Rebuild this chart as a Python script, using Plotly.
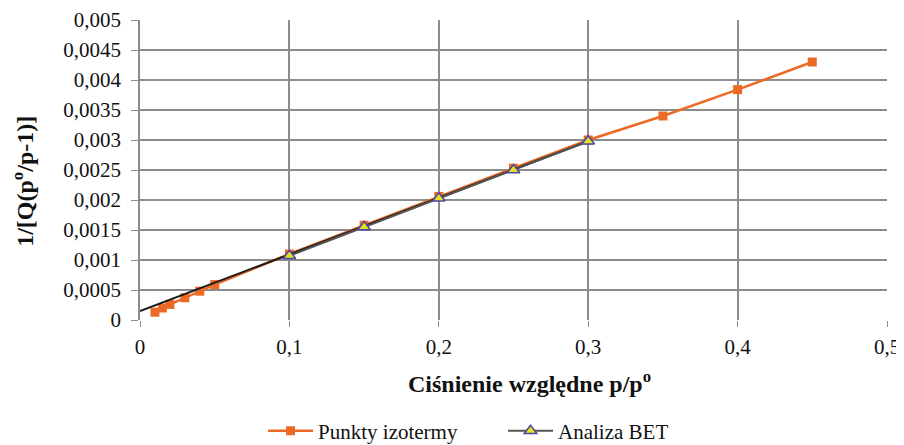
import plotly.graph_objects as go

iso_x = [0.01, 0.015, 0.02, 0.03, 0.04, 0.05, 0.1, 0.15, 0.2, 0.25, 0.3, 0.35, 0.4, 0.45]
iso_y = [0.00013, 0.0002, 0.00026, 0.00037, 0.00048, 0.00059, 0.0011, 0.00158, 0.00206, 0.00253, 0.003, 0.0034, 0.00384, 0.0043]

bet_x = [0.1, 0.15, 0.2, 0.25, 0.3]
bet_y = [0.00107, 0.00155, 0.00203, 0.0025, 0.00298]

fit_x = [0.0, 0.3]
fit_y = [0.00015, 0.00298]

x_title = "Ciśnienie względne p/p<sup>o</sup>"
y_title = "1/[Q(p<sup>o</sup>/p-1)]"

orange = "#EC6A26"
serif = "Liberation Serif, Times New Roman, Times, serif"

fig = go.Figure()
fig.add_trace(go.Scatter(
    x=iso_x, y=iso_y, mode="lines+markers", name="Punkty izotermy",
    line=dict(color=orange, width=2.5),
    marker=dict(symbol="square", size=9, color=orange),
))
fig.add_trace(go.Scatter(
    x=fit_x, y=fit_y, mode="lines", showlegend=False,
    line=dict(color="#1a1a1a", width=2), hoverinfo="skip",
))
fig.add_trace(go.Scatter(
    x=bet_x, y=bet_y, mode="lines+markers", name="Analiza BET",
    line=dict(color="#555555", width=2),
    marker=dict(symbol="triangle-up", size=11, color="#E2E21E",
                line=dict(color="#4A48A8", width=1.5)),
))

fig.update_layout(
    width=904, height=445,
    margin=dict(l=132, r=25, t=12, b=133, autoexpand=False),
    paper_bgcolor="white", plot_bgcolor="white",
    separators=", ",
    font=dict(family=serif, size=21, color="#111"),
    showlegend=True,
    legend=dict(orientation="h", x=0.486, xanchor="center", y=-0.302, yanchor="top",
                font=dict(family=serif, size=21), itemwidth=45,
                entrywidth=180, entrywidthmode="pixels"),
    xaxis=dict(
        range=[0, 0.5], dtick=0.1, tick0=0, automargin=False,
        showgrid=True, gridcolor="#8c8c8c", gridwidth=1.5,
        zeroline=False, showline=False,
        ticks="outside", ticklen=6, tickcolor="#8c8c8c",
        ticklabelstandoff=2,
        tickfont=dict(family=serif, size=21),
    ),
    yaxis=dict(
        range=[0, 0.005], dtick=0.0005, tick0=0, automargin=False,
        showgrid=True, gridcolor="#8c8c8c", gridwidth=1.5,
        zeroline=False, showline=True, linecolor="#8c8c8c", linewidth=1.5,
        ticks="outside", ticklen=7, tickcolor="#8c8c8c",
        ticklabelstandoff=6,
        tickfont=dict(family=serif, size=21),
    ),
    annotations=[
        dict(text="<b>" + x_title + "</b>", xref="paper", yref="paper",
             x=0.522, y=-0.207, xanchor="center", yanchor="middle",
             showarrow=False, font=dict(family=serif, size=24)),
        dict(text="<b>" + y_title + "</b>", xref="paper", yref="paper",
             x=-0.157, y=0.463, xanchor="center", yanchor="middle", textangle=-90,
             showarrow=False, borderpad=0, font=dict(family=serif, size=24)),
    ],
)

fig.write_html("out.html")
